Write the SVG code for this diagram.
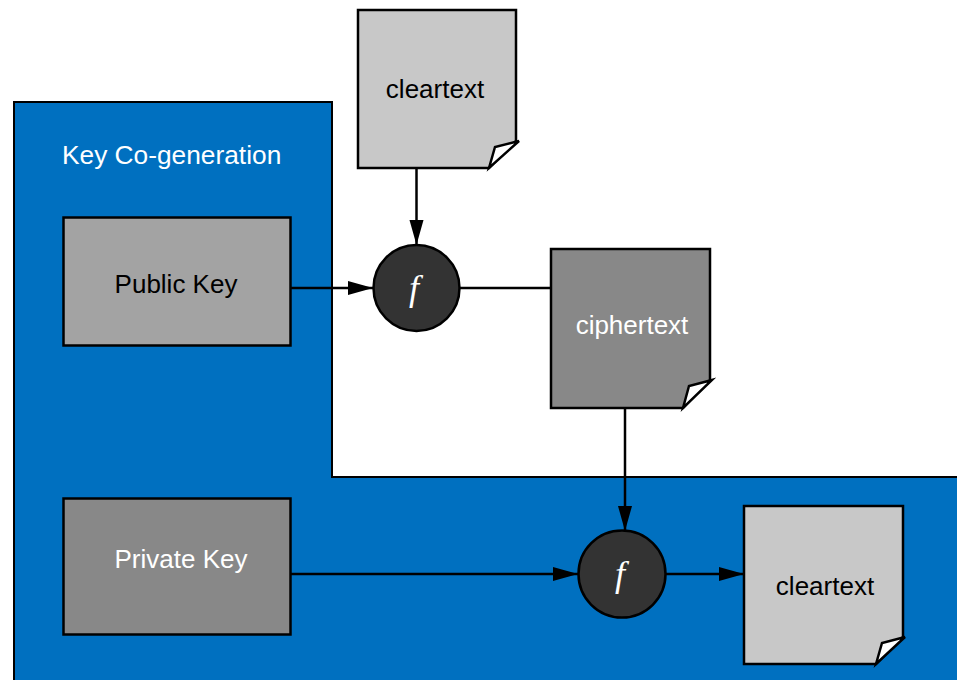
<svg xmlns="http://www.w3.org/2000/svg" width="957" height="680" viewBox="0 0 957 680">
<style>
.lbl{font-family:"Liberation Sans",Arial,sans-serif;font-size:26px;text-anchor:middle}
.dark{fill:#000}
.light{fill:#fff}
.box{stroke:#000;stroke-width:2.5}
.doc{stroke:#000;stroke-width:2.5;stroke-linejoin:miter}
.flap{fill:#fff;stroke:#000;stroke-width:2.5;stroke-linejoin:miter}
.fn{fill:#333;stroke:#000;stroke-width:2.5}
.ftxt{font-family:"Liberation Serif","Times New Roman",serif;font-style:italic;font-size:36px;fill:#fff;text-anchor:middle}
.edge{stroke:#000;stroke-width:2.5;fill:none}
</style>
<defs>
<marker id="arr" markerUnits="userSpaceOnUse" markerWidth="26" markerHeight="16" refX="25" refY="7" orient="auto">
<path d="M0,0 L25,7 L0,14 Z" fill="#000"/>
</marker>
</defs>
<g id="keycogen">
<path d="M14,102 H332 V477 H958 V681 H14 Z" fill="#0070C0" stroke="#000" stroke-width="2"/>
<text x="62" y="164" font-family="'Liberation Sans',Arial,sans-serif" font-size="26.3" fill="#fff">Key Co-generation</text>
</g>
<g id="connectors">
<line class="edge" x1="416.5" y1="168" x2="416.5" y2="245" marker-end="url(#arr)"/>
<line class="edge" x1="290" y1="288" x2="373" y2="288" marker-end="url(#arr)"/>
<line class="edge" x1="460" y1="288" x2="551" y2="288"/>
<line class="edge" x1="625" y1="407" x2="625" y2="531" marker-end="url(#arr)"/>
<line class="edge" x1="290" y1="574" x2="578" y2="574" marker-end="url(#arr)"/>
<line class="edge" x1="666" y1="574" x2="744" y2="574" marker-end="url(#arr)"/>
</g>
<g id="cleartext-top">
<path class="doc" fill="#c8c8c8" d="M358,10 H516 V141 L489,168 H358 Z"/>
<path class="flap" d="M489,168 L495,147 L519,141 Z"/>
<text class="lbl dark" x="435" y="98">cleartext</text>
</g>
<g id="public-key">
<rect class="box" x="63.5" y="217.5" width="227" height="128" fill="#a3a3a3"/>
<text class="lbl dark" x="176" y="293">Public Key</text>
</g>
<g id="encrypt">
<circle class="fn" cx="416.5" cy="288" r="43"/>
<text class="ftxt" x="414" y="300">f</text>
</g>
<g id="ciphertext">
<path class="doc" fill="#888" d="M551,249 H710 V380 L683,408 H551 Z"/>
<path class="flap" d="M683,408 L689,386 L712,380 Z"/>
<text class="lbl light" x="632" y="334">ciphertext</text>
</g>
<g id="private-key">
<rect class="box" x="63.5" y="498.5" width="227" height="136" fill="#888"/>
<text class="lbl light" x="181" y="568">Private Key</text>
</g>
<g id="decrypt">
<circle class="fn" cx="622" cy="574" r="43.5"/>
<text class="ftxt" x="620" y="586">f</text>
</g>
<g id="cleartext-bottom">
<path class="doc" fill="#c8c8c8" d="M744,506 H903 V637 L876,664 H744 Z"/>
<path class="flap" d="M876,664 L882,643 L905,637 Z"/>
<text class="lbl dark" x="825" y="595">cleartext</text>
</g>
</svg>
